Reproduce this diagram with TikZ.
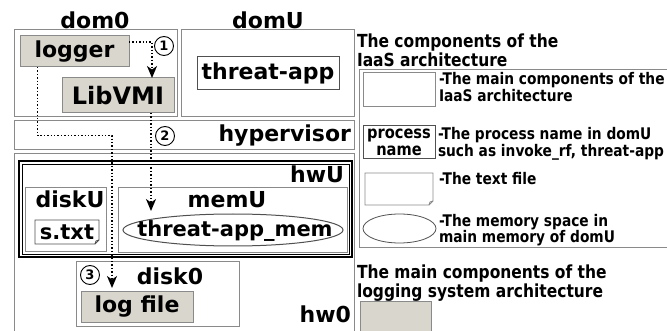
\documentclass[tikz,border=0pt]{standalone}
\usepackage{fontspec}
\usetikzlibrary{arrows.meta,shapes.geometric,calc}

\newfontfamily\labelfont{DejaVu Sans}
\newfontfamily\narrowfont{DejaVu Sans}[FakeStretch=0.86]
\newcommand\biglbl{\labelfont\bfseries\fontsize{22}{24}\selectfont}
\newcommand\notelbl{\narrowfont\bfseries\fontsize{16}{17}\selectfont}
\newcommand\headlbl{\narrowfont\bfseries\fontsize{18}{16}\selectfont}
\newcommand\numlbl{\labelfont\bfseries\fontsize{13}{13}\selectfont}

\definecolor{boxline}{HTML}{8A8A8A}
\definecolor{inkline}{HTML}{505050}
\definecolor{compfill}{HTML}{D9D6CE}

\begin{document}
\begin{tikzpicture}[x=1pt,y=-1pt,
  every node/.style={inner sep=0pt, outer sep=0pt},
  region/.style={draw=boxline, line width=1pt, anchor=north west},
  comp/.style={draw=boxline, fill=compfill, line width=1pt, anchor=north west, font=\biglbl},
  proc/.style={draw=inkline, line width=1pt, anchor=north west, font=\biglbl},
  tag/.style={font=\biglbl, anchor=base},
  note/.style={font=\notelbl, anchor=base west},
  heading/.style={font=\headlbl, anchor=north west, align=left},
  flow/.style={dotted, line width=1.4pt, -{Stealth[length=12pt,width=10pt,inset=3.5pt]}},
  numc/.style={circle, draw=black, line width=0.9pt, minimum size=19pt, font=\numlbl},
]
\useasboundingbox (0,0) rectangle (667,331);

% ---- domains ----
\node[region, minimum width=163pt, minimum height=87pt] (dom0) at (14,30) {};
\node[region, minimum width=173pt, minimum height=87pt] (domU) at (181,30) {};
\node[tag] (dom0lbl) at (95,29) {dom0};
\node[tag] (domUlbl) at (268,29) {domU};
\node[comp, minimum width=109pt, minimum height=31pt] (logger) at (20,36) {logger};
\node[comp, minimum width=112pt, minimum height=35pt] (libvmi) at (62,78) {\fontsize{24}{26}\selectfont LibVMI};
\node[proc, minimum width=142pt, minimum height=33pt] (tapp) at (197,57) {threat-app};

% ---- hypervisor ----
\node[region, minimum width=340pt, minimum height=29pt] (hyp) at (14,121) {};
\node[tag, anchor=base east] (hyplbl) at (351,142) {hypervisor};

% ---- hardware ----
\node[region, minimum width=340pt, minimum height=190pt] (hw0) at (14,154) {};
\node[tag, anchor=base east] (hw0lbl) at (351,322) {hw0};
\node[region, draw=black, line width=2pt, minimum width=333pt, minimum height=96pt] (hwU) at (19,161) {};
\draw[line width=0.8pt] ([shift={(3pt,-3pt)}]hwU.north west) rectangle ([shift={(-3pt,3pt)}]hwU.south east);
\node[tag, anchor=base east] (hwUlbl) at (344,183) {hwU};

\node[region, minimum width=81pt, minimum height=64pt] (diskU) at (25,188) {};
\node[tag] (diskUlbl) at (70,208) {diskU};
\node[anchor=north west, minimum width=64pt, minimum height=24pt, font=\biglbl\fontsize{21}{22}\selectfont] (stxt) at (35,220) {s.txt};
\draw[inkline, line width=0.8pt] (stxt.north west) -- (stxt.north east) -- ($(stxt.south east)+(0,-4)$)
  -- ($(stxt.south east)+(-4,0)$) -- (stxt.south west) -- cycle;
\draw[inkline, line width=0.8pt] ($(stxt.south east)+(-4,0)$) -- ($(stxt.south east)+(-3,-3)$) -- ($(stxt.south east)+(0,-4)$);

\node[region, minimum width=229pt, minimum height=65pt] (memU) at (118,188) {};
\node[tag] (memUlbl) at (227,208) {memU};
\node[ellipse, draw=inkline, line width=1pt, minimum width=220pt, minimum height=32pt] (tam) at (233,230) {};
\node[tag, font=\biglbl\fontsize{21}{22}\selectfont] (tamlbl) at (235,237) {threat-app\_mem};

\node[region, minimum width=163pt, minimum height=64pt] (disk0) at (76,262) {};
\node[tag] (disk0lbl) at (170,285) {disk0};
\node[comp, minimum width=112pt, minimum height=30pt] (logfile) at (81,292) {log file};

% ---- numbered steps ----
\node[numc] (s1) at (164,46) {1};
\node[numc] (s2) at (165,136) {2};
\node[numc] (s3) at (90,275) {3};

% ---- data flows ----
\draw[flow] ([yshift=9.5pt]logger.east) -| ([xshift=34pt]libvmi.north);
\draw[flow, shorten >=3pt] ([xshift=33pt]libvmi.south) -- ([xshift=33pt]libvmi.south |- tam.north);
\draw[flow, shorten >=4pt] ([xshift=-37pt]logger.south) |- ([xshift=-25pt]logfile.north |- hyp.center)
  -- ([xshift=-25pt]logfile.north);

% ---- legend ----
\node[heading] (h1) at (357,34) {The components of the\\IaaS architecture};
\node[region, minimum width=315pt, minimum height=178pt] (legend) at (359,70) {};

\node[region, minimum width=72pt, minimum height=34pt] (lgbox) at (363,73) {};
\node[note] (n1a) at (439,85) {-The main components of the};
\node[note] (n1b) at (439,102) {IaaS architecture};

\node[proc, minimum width=72pt, minimum height=33pt, align=center,
  font=\narrowfont\bfseries\fontsize{17}{17}\selectfont] (lgproc) at (363,126) {process\\name};
\node[note] (n2a) at (438,140) {-The process name in domU};
\node[note] (n2b) at (438,157) {such as invoke\_rf, threat-app};

\node[anchor=north west, minimum width=68pt, minimum height=32pt] (lgfile) at (365,173) {};
\draw[boxline, line width=0.8pt] (lgfile.north west) -- (lgfile.north east) -- ($(lgfile.south east)+(0,-4)$)
  -- ($(lgfile.south east)+(-4,0)$) -- (lgfile.south west) -- cycle;
\draw[boxline, line width=0.8pt] ($(lgfile.south east)+(-4,0)$) -- ($(lgfile.south east)+(-3,-3)$) -- ($(lgfile.south east)+(0,-4)$);
\node[note] (n3) at (439,185) {-The text file};

\node[ellipse, draw=inkline, line width=0.8pt, minimum width=73pt, minimum height=29pt] (lgmem) at (399.5,228.5) {};
\node[note] (n4a) at (439,227) {-The memory space in};
\node[note] (n4b) at (439,243) {main memory of domU};

\node[heading] (h2) at (357,265) {The main components of the\\logging system architecture};
\node[comp, minimum width=71pt, minimum height=40pt] (lgcomp) at (360,301) {};
\end{tikzpicture}
\end{document}
